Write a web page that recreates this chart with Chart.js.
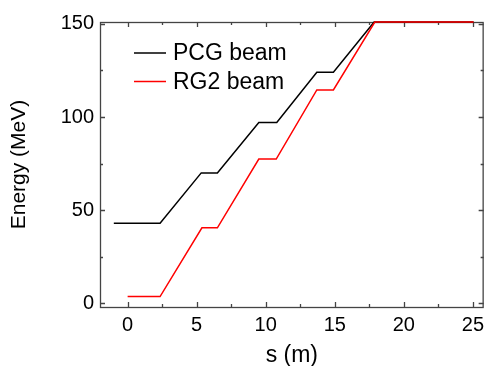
<!DOCTYPE html>
<html>
<head>
<meta charset="utf-8">
<script src="https://cdn.jsdelivr.net/npm/chart.js@4/dist/chart.umd.min.js"></script>
<style>
  html, body { margin: 0; padding: 0; background: #fff; }
  #wrap { width: 490px; height: 366px; position: relative; }
</style>
</head>
<body>
<div id="wrap"><canvas id="chart"></canvas></div>
<script>
// data
const pcgS = [-1, 2.35, 5.33, 6.5, 9.5, 10.8, 13.7, 14.9, 17.85, 25.05];
const pcgE = [43, 43, 70, 70, 97, 97, 124, 124, 151, 151];
const rg2S = [0, 2.35, 5.38, 6.5, 9.5, 10.76, 13.7, 14.9, 17.9, 25.05];
const rg2E = [3.6, 3.6, 40.5, 40.5, 77.4, 77.4, 114.5, 114.5, 151, 151];

const xTicks = [0, 5, 10, 15, 20, 25];
const xMinor = [-2.5, 2.5, 7.5, 12.5, 17.5, 22.5];
const yTicks = [0, 50, 100, 150];
const yMinor = [25, 75, 125];

const FONT = "'Liberation Sans', Arial, sans-serif";

function pts(xs, ys) {
    return xs.map((x, i) => ({ x: x, y: ys[i] }));
}

// frame + inward ticks on all four sides (under the lines), legend on top
const framePlugin = {
    id: "frame",
    beforeDatasetsDraw(chart) {
        const ctx = chart.ctx;
        const a = chart.chartArea;
        const xs = chart.scales.x;
        const ys = chart.scales.y;
        ctx.save();
        ctx.strokeStyle = "#444";
        ctx.lineWidth = 1.3;
        ctx.strokeRect(a.left + 0.5, a.top + 0.5, a.right - a.left - 1, a.bottom - a.top);

        ctx.beginPath();
        const xt = (v, len) => {
            const px = Math.round(xs.getPixelForValue(v)) + 0.5;
            if (px < a.left || px > a.right) return;
            ctx.moveTo(px, a.bottom); ctx.lineTo(px, a.bottom - len);
            ctx.moveTo(px, a.top); ctx.lineTo(px, a.top + len);
        };
        const yt = (v, len) => {
            const py = Math.round(ys.getPixelForValue(v)) + 0.5;
            ctx.moveTo(a.left, py); ctx.lineTo(a.left + len, py);
            ctx.moveTo(a.right, py); ctx.lineTo(a.right - len, py);
        };
        xTicks.forEach(v => xt(v, 5));
        xMinor.forEach(v => xt(v, 3));
        yTicks.forEach(v => yt(v, 5));
        yMinor.forEach(v => yt(v, 3));
        ctx.stroke();
        ctx.restore();
    },
    afterDraw(chart) {
        const ctx = chart.ctx;
        ctx.save();
        ctx.font = "23px " + FONT;
        ctx.textBaseline = "middle";
        ctx.textAlign = "left";
        chart.data.datasets.forEach((ds, i) => {
            const y = 53 + i * 28.5;
            ctx.strokeStyle = ds.borderColor;
            ctx.lineWidth = 1.5;
            ctx.beginPath();
            ctx.moveTo(134, y);
            ctx.lineTo(166, y);
            ctx.stroke();
            ctx.fillStyle = "#000";
            ctx.fillText(ds.label, 173, y + 1);
        });
        ctx.restore();
    }
};

new Chart(document.getElementById("chart"), {
    type: "scatter",
    data: {
        datasets: [{
            label: "PCG beam",
            data: pts(pcgS, pcgE),
            order: 1,
            showLine: true,
            clip: false,
            borderColor: "#000",
            borderWidth: 1.5,
            pointRadius: 0,
            tension: 0
        }, {
            label: "RG2 beam",
            data: pts(rg2S, rg2E),
            order: 0, // red drawn on top
            showLine: true,
            clip: false,
            borderColor: "#ff0000",
            borderWidth: 1.5,
            pointRadius: 0,
            tension: 0
        }]
    },
    options: {
        responsive: true,
        maintainAspectRatio: false,
        animation: false,
        layout: { autoPadding: false, padding: { top: 22, right: 0, bottom: 0, left: 0 } },
        plugins: {
            legend: { display: false },
            tooltip: { enabled: false }
        },
        scales: {
            x: {
                type: "linear",
                min: -2,
                max: 25.78,
                afterFit(scale) { scale.height = 59; },
                afterBuildTicks(scale) { scale.ticks = xTicks.map(v => ({ value: v })); },
                grid: { display: false, drawTicks: false },
                border: { display: false },
                ticks: {
                    padding: 6,
                    color: "#000",
                    maxRotation: 0,
                    font: { family: FONT, size: 20 }
                },
                title: {
                    display: true,
                    text: "s (m)",
                    color: "#000",
                    padding: 0,
                    font: { family: FONT, size: 23, lineHeight: 0.9 }
                }
            },
            y: {
                type: "linear",
                min: -2,
                max: 151,
                afterFit(scale) { scale.width = 100; },
                afterBuildTicks(scale) { scale.ticks = yTicks.map(v => ({ value: v })); },
                grid: { display: false, drawTicks: false },
                border: { display: false },
                ticks: {
                    padding: 6,
                    color: "#000",
                    font: { family: FONT, size: 20 }
                },
                title: {
                    display: true,
                    text: "Energy (MeV)",
                    color: "#000",
                    padding: { top: 9, bottom: 0 },
                    font: { family: FONT, size: 21, lineHeight: 1 }
                }
            }
        }
    },
    plugins: [framePlugin]
});
</script>
</body>
</html>
